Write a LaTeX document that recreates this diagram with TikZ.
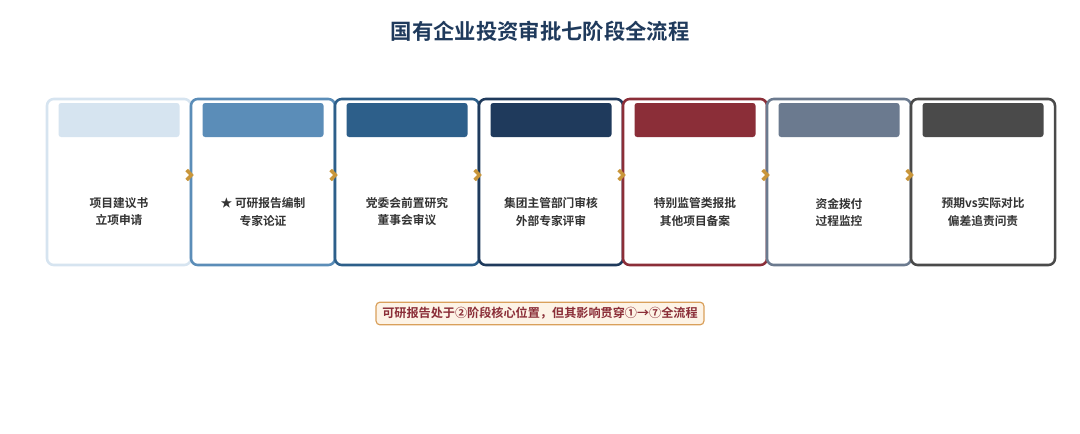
\documentclass[tikz,border=0pt]{standalone}
\usepackage{fontspec}
\setmainfont{Noto Sans CJK SC}[BoldFont={Noto Sans CJK SC Bold}]
\usetikzlibrary{positioning}
\usetikzlibrary{arrows.meta}
\usetikzlibrary{calc}

\definecolor{sOne}{HTML}{D6E4F0}
\definecolor{sTwo}{HTML}{5B8DB8}
\definecolor{sThree}{HTML}{2D5F8A}
\definecolor{sFour}{HTML}{1F3A5C}
\definecolor{sFive}{HTML}{8B2E38}
\definecolor{sSix}{HTML}{6B7A8F}
\definecolor{sSeven}{HTML}{4A4A4A}
\definecolor{gold}{HTML}{C9963A}
\definecolor{notefill}{HTML}{FDF3E6}
\definecolor{noteline}{HTML}{D9A05B}
\definecolor{txt}{HTML}{333333}

\tikzstyle{stagebox}=[draw,fill=white,line width=1.9pt,rounded corners=5pt,minimum width=108pt,minimum height=124.5pt,inner sep=0pt]
\tikzstyle{headbar}=[rounded corners=2pt,minimum width=90.75pt,minimum height=25.5pt,inner sep=0pt]
\tikzstyle{stagetext}=[font=\bfseries\fontsize{8.8}{12.8}\selectfont,text=txt,align=center]
\tikzstyle{chev} = [draw=gold,line width=2.6pt,-{Straight Barb[length=3.5pt,width=7.5pt]}]

\begin{document}
\begin{tikzpicture}[x=0.75pt,y=-0.75pt]

    \useasboundingbox (0,0) rectangle (1080,433);

% Title
    \node[font=\bfseries\fontsize{16}{19}\selectfont,text=sFour] (title) at (540,31) {国有企业投资审批七阶段全流程};

%stages
    \foreach \pos/\name/\col/\label in {{119/s1/sOne/项目建议书\\立项申请}, {263/s2/sTwo/★ 可研报告编制\\专家论证}, {407/s3/sThree/党委会前置研究\\董事会审议}, {551/s4/sFour/集团主管部门审核\\外部专家评审}, {695/s5/sFive/特别监管类报批\\其他项目备案}, {839/s6/sSix/资金拨付\\过程监控}, {983/s7/sSeven/预期vs实际对比\\偏差追责问责}}
    {
        \node[stagebox,draw=\col] (\name) at (\pos,182) {};
        \node[headbar,fill=\col] (\name bar) at (\pos,120) {};
        \node[stagetext] (\name txt) at (\pos,212) {\label};
    }

% Arrows
    \foreach \source/\dest in {s1/s2, s2/s3, s3/s4, s4/s5, s5/s6, s6/s7}
    {
        \coordinate (\source a) at ($(\source.east)+(-3,-7)$);
        \path[chev] (\source a) -- ($(\dest.west)+(4,-7)$);
    }

% Note
    \node[draw=noteline,fill=notefill,line width=0.9pt,rounded corners=3pt,minimum width=246pt,minimum height=17pt,inner sep=0pt,text=sFive,font=\bfseries\fontsize{9.1}{11}\selectfont] (note) at (540,313.5) {可研报告处于②阶段核心位置，但其影响贯穿①→⑦全流程};

\end{tikzpicture}
\end{document}
